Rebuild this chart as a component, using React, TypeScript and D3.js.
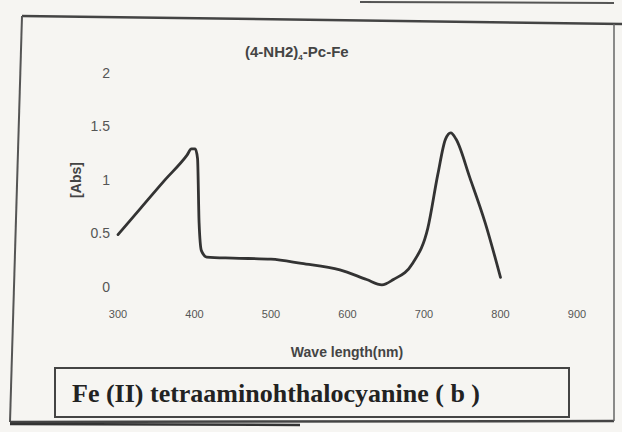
import React from 'react';
import * as d3 from 'd3';

// wavelength (nm) and absorbance
const wavelength = [300, 330, 360, 390, 396, 401, 404, 406, 409, 416, 450, 500, 540, 590, 625, 645, 660, 685, 705, 718, 728, 735, 742, 760, 780, 800];
const absorbance = [0.49, 0.74, 0.99, 1.23, 1.29, 1.29, 1.2, 0.6, 0.34, 0.28, 0.27, 0.26, 0.22, 0.16, 0.07, 0.02, 0.07, 0.22, 0.55, 1.05, 1.38, 1.44, 1.38, 1.02, 0.6, 0.09];

const xTicks = [300, 400, 500, 600, 700, 800, 900];
const yTicks = [0, 0.5, 1, 1.5, 2];

const title = '(4-NH2)';
const titleSub = '4';
const titleTail = '-Pc-Fe';
const xTitle = 'Wave length(nm)';
const yTitle = '[Abs]';
const caption = 'Fe (II) tetraaminohthalocyanine  ( b )';

const W = 622;
const H = 432;

export default function App() {
  const x = d3.scaleLinear().domain([300, 900]).range([118, 577]);
  const y = d3.scaleLinear().domain([0, 2]).range([287, 73]);

  const points = wavelength.map((w, i) => [w, absorbance[i]] as [number, number]);
  const line = d3
    .line<[number, number]>()
    .x(d => x(d[0]))
    .y(d => y(d[1]))
    .curve(d3.curveMonotoneX);

  return (
    <svg
      width={W}
      height={H}
      style={{ position: 'absolute', left: 0, top: 0 }}
      fontFamily="Arial, 'Liberation Sans', sans-serif"
    >
      <rect width={W} height={H} fill="#f6f5f2" />

      {/* scan frame */}
      <path d="M360,2 L614,3" stroke="#555" strokeWidth={2} fill="none" />
      <path d="M22,16 L622,24" stroke="#444" strokeWidth={2.5} fill="none" />
      <path d="M22,16 L10,422" stroke="#555" strokeWidth={2} fill="none" />
      <path d="M10,422 L614,421" stroke="#444" strokeWidth={2.5} fill="none" />
      <path d="M10,424 L300,425" stroke="#333" strokeWidth={2.5} fill="none" />
      <path d="M614,24 L614,421" stroke="#666" strokeWidth={1.5} fill="none" />

      {/* title */}
      <text x={245} y={57} fontSize={15} fontWeight="bold" fill="#444">
        {title}
        <tspan fontSize={8} dy={3}>{titleSub}</tspan>
        <tspan dy={-3}>{titleTail}</tspan>
      </text>

      {/* y ticks */}
      {yTicks.map(t => (
        <text key={t} x={110} y={y(t)} dy="0.35em" textAnchor="end" fontSize={14} fill="#555">
          {t}
        </text>
      ))}

      {/* x ticks */}
      {xTicks.map(t => (
        <text key={t} x={x(t)} y={314} dy="0.35em" textAnchor="middle" fontSize={11} fill="#555">
          {t}
        </text>
      ))}

      <text
        transform={`translate(76,180) rotate(-90)`}
        textAnchor="middle"
        dy="0.35em"
        fontSize={14}
        fontWeight="bold"
        fill="#444"
      >
        {yTitle}
      </text>

      <text x={347} y={352} dy="0.35em" textAnchor="middle" fontSize={14} fontWeight="bold" fill="#444">
        {xTitle}
      </text>

      <path d={line(points) ?? ''} fill="none" stroke="#333" strokeWidth={2.8} strokeLinejoin="round" strokeLinecap="round" />

      {/* caption box */}
      <rect x={55} y={368} width={514} height={49} fill="none" stroke="#444" strokeWidth={2} />
      <text
        x={72}
        y={393}
        dy="0.35em"
        fontFamily="'Liberation Serif', 'DejaVu Serif', serif"
        fontWeight="bold"
        fontSize={26}
        fill="#222"
      >
        {caption}
      </text>
    </svg>
  );
}
